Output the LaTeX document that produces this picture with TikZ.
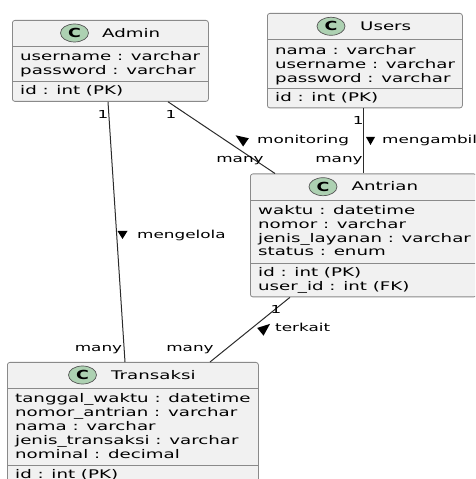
\documentclass[tikz,border=0pt]{standalone}
\usepackage{fontspec}
\setmainfont{DejaVu Sans}[FakeStretch=1.53]
\newfontface\badgefont{DejaVu Sans Bold}[FakeStretch=1.4]
\usetikzlibrary{calc,shapes.geometric}
\definecolor{boxfill}{HTML}{F1F1F1}
\definecolor{boxline}{HTML}{8A8A8A}
\definecolor{relline}{HTML}{2B2B2B}
\definecolor{badgefill}{HTML}{ADD1B2}
\tikzset{
  classbox/.style={rectangle, draw=boxline, fill=boxfill, line width=0.8pt,
    rounded corners=2.5pt, inner sep=0pt, anchor=north west},
  sepline/.style={draw=boxline, line width=0.8pt},
  fld/.style={font=\fontsize{11.9}{14}\selectfont, inner sep=0pt,
    anchor=base west, text=black},
  badge/.style={ellipse, draw=relline!80, fill=badgefill, line width=0.7pt,
    minimum width=28pt, minimum height=18pt, inner sep=0pt,
    font=\badgefont\fontsize{12.5}{12.5}\selectfont},
  rel/.style={draw=relline, line width=1pt},
  lbl/.style={font=\fontsize{11}{13}\selectfont, inner sep=0pt,
    anchor=base, text=black},
  lblw/.style={lbl, anchor=base west},
  dirmark/.style={fill=black}
}
\begin{document}
\begin{tikzpicture}[x=1pt,y=1pt]
\useasboundingbox (0,0) rectangle (475,479);
\clip (0,0) rectangle (475,479);

% ---------- class boxes ----------
\node[classbox, minimum width=196pt, minimum height=81pt]   (admin)   at (12,459)  {};
\node[classbox, minimum width=195pt, minimum height=94.5pt] (users)   at (267,466) {};
\node[classbox, minimum width=226pt, minimum height=123pt]  (antrian) at (250,305.5) {};
\node[classbox, minimum width=251pt, minimum height=132pt]  (trans)   at (7,117)   {};

% compartment separators
\draw[sepline] ($(admin.north west)+(0,-26)$)     -- ($(admin.north east)+(0,-26)$);
\draw[sepline] ($(admin.north west)+(0,-61.5)$)   -- ($(admin.north east)+(0,-61.5)$);
\draw[sepline] ($(users.north west)+(0,-26.5)$)   -- ($(users.north east)+(0,-26.5)$);
\draw[sepline] ($(users.north west)+(0,-75)$)     -- ($(users.north east)+(0,-75)$);
\draw[sepline] ($(antrian.north west)+(0,-26.5)$) -- ($(antrian.north east)+(0,-26.5)$);
\draw[sepline] ($(antrian.north west)+(0,-89.5)$) -- ($(antrian.north east)+(0,-89.5)$);
\draw[sepline] ($(trans.north west)+(0,-26)$)     -- ($(trans.north east)+(0,-26)$);
\draw[sepline] ($(trans.north west)+(0,-103)$)    -- ($(trans.north east)+(0,-103)$);

% ---------- Admin ----------
\node[badge] (admin-c) at (74.5,446) {C};
\node[fld] (admin-t)  at (102,441.7) {Admin};
\node[fld] (admin-f1) at (20,418)    {username : varchar};
\node[fld] (admin-f2) at (20,404.2)  {password : varchar};
\node[fld] (admin-k1) at (20,384)    {id : int (PK)};

% ---------- Users ----------
\node[badge] (users-c) at (331,452.7) {C};
\node[fld] (users-t)  at (360,448.4) {Users};
\node[fld] (users-f1) at (275,424.5) {nama : varchar};
\node[fld] (users-f2) at (275,410.7) {username : varchar};
\node[fld] (users-f3) at (275,396.9) {password : varchar};
\node[fld] (users-k1) at (275,377.5) {id : int (PK)};

% ---------- Antrian ----------
\node[badge] (antrian-c) at (323,292.3) {C};
\node[fld] (antrian-t)  at (351.5,288) {Antrian};
\node[fld] (antrian-f1) at (258,264.5) {waktu : datetime};
\node[fld] (antrian-f2) at (258,250.7) {nomor : varchar};
\node[fld] (antrian-f3) at (258,236.9) {jenis\_layanan : varchar};
\node[fld] (antrian-f4) at (258,223.1) {status : enum};
\node[fld] (antrian-k1) at (258,202.5) {id : int (PK)};
\node[fld] (antrian-k2) at (258,188.7) {user\_id : int (FK)};

% ---------- Transaksi ----------
\node[badge] (trans-c) at (82.5,104) {C};
\node[fld] (trans-t)  at (111,99.7) {Transaksi};
\node[fld] (trans-f1) at (15,76)    {tanggal\_waktu : datetime};
\node[fld] (trans-f2) at (15,62.2)  {nomor\_antrian : varchar};
\node[fld] (trans-f3) at (15,48.4)  {nama : varchar};
\node[fld] (trans-f4) at (15,34.6)  {jenis\_transaksi : varchar};
\node[fld] (trans-f5) at (15,20.8)  {nominal : decimal};
\node[fld] (trans-k1) at (15,0.5)   {id : int (PK)};

% ---------- relations ----------
\draw[rel] ($(admin.south west)+(96,0)$)    -- ($(trans.north west)+(118,0)$);
\draw[rel] ($(admin.south west)+(156,0)$)   -- ($(antrian.north west)+(25,0)$);
\draw[rel] ($(users.south west)+(96,0)$)    -- ($(antrian.north west)+(113,0)$);
\draw[rel] ($(antrian.south west)+(40,0)$)  -- ($(trans.north west)+(203,0)$);

% multiplicities
\node[lbl] (m-ad-1)  at (103,360.7)   {1};
\node[lbl] (m-ad-2)  at (171,360.7)   {1};
\node[lbl] (m-us-1)  at (358.3,354)   {1};
\node[lbl] (m-an-1)  at (276,165.7)   {1};
\node[lbl] (m-tr-1)  at (98.5,127.5)  {many};
\node[lbl] (m-tr-2)  at (190,127.5)   {many};
\node[lbl] (m-an-2)  at (240,316)     {many};
\node[lbl] (m-an-3)  at (339,316)     {many};

% relation names with direction marks
\node[lblw] (r-mengelola)  at (137,240.5) {mengelola};
\fill[dirmark] (117.5,248) -- (127.5,248) -- (122.5,240) -- cycle;

\node[lblw] (r-monitoring) at (257,335.6) {monitoring};
\fill[dirmark, rotate around={145.7:(241,340)}]
  (247.5,340) -- (235,345) -- (235,335) -- cycle;

\node[lblw] (r-mengambil)  at (382,335.6) {mengambil};
\fill[dirmark] (366,342) -- (375,342) -- (370.5,334) -- cycle;

\node[lblw] (r-terkait)    at (275,147.5) {terkait};
\fill[dirmark, rotate around={39.3:(265,151)}]
  (271.5,151) -- (259,156) -- (259,146) -- cycle;
\end{tikzpicture}
\end{document}
